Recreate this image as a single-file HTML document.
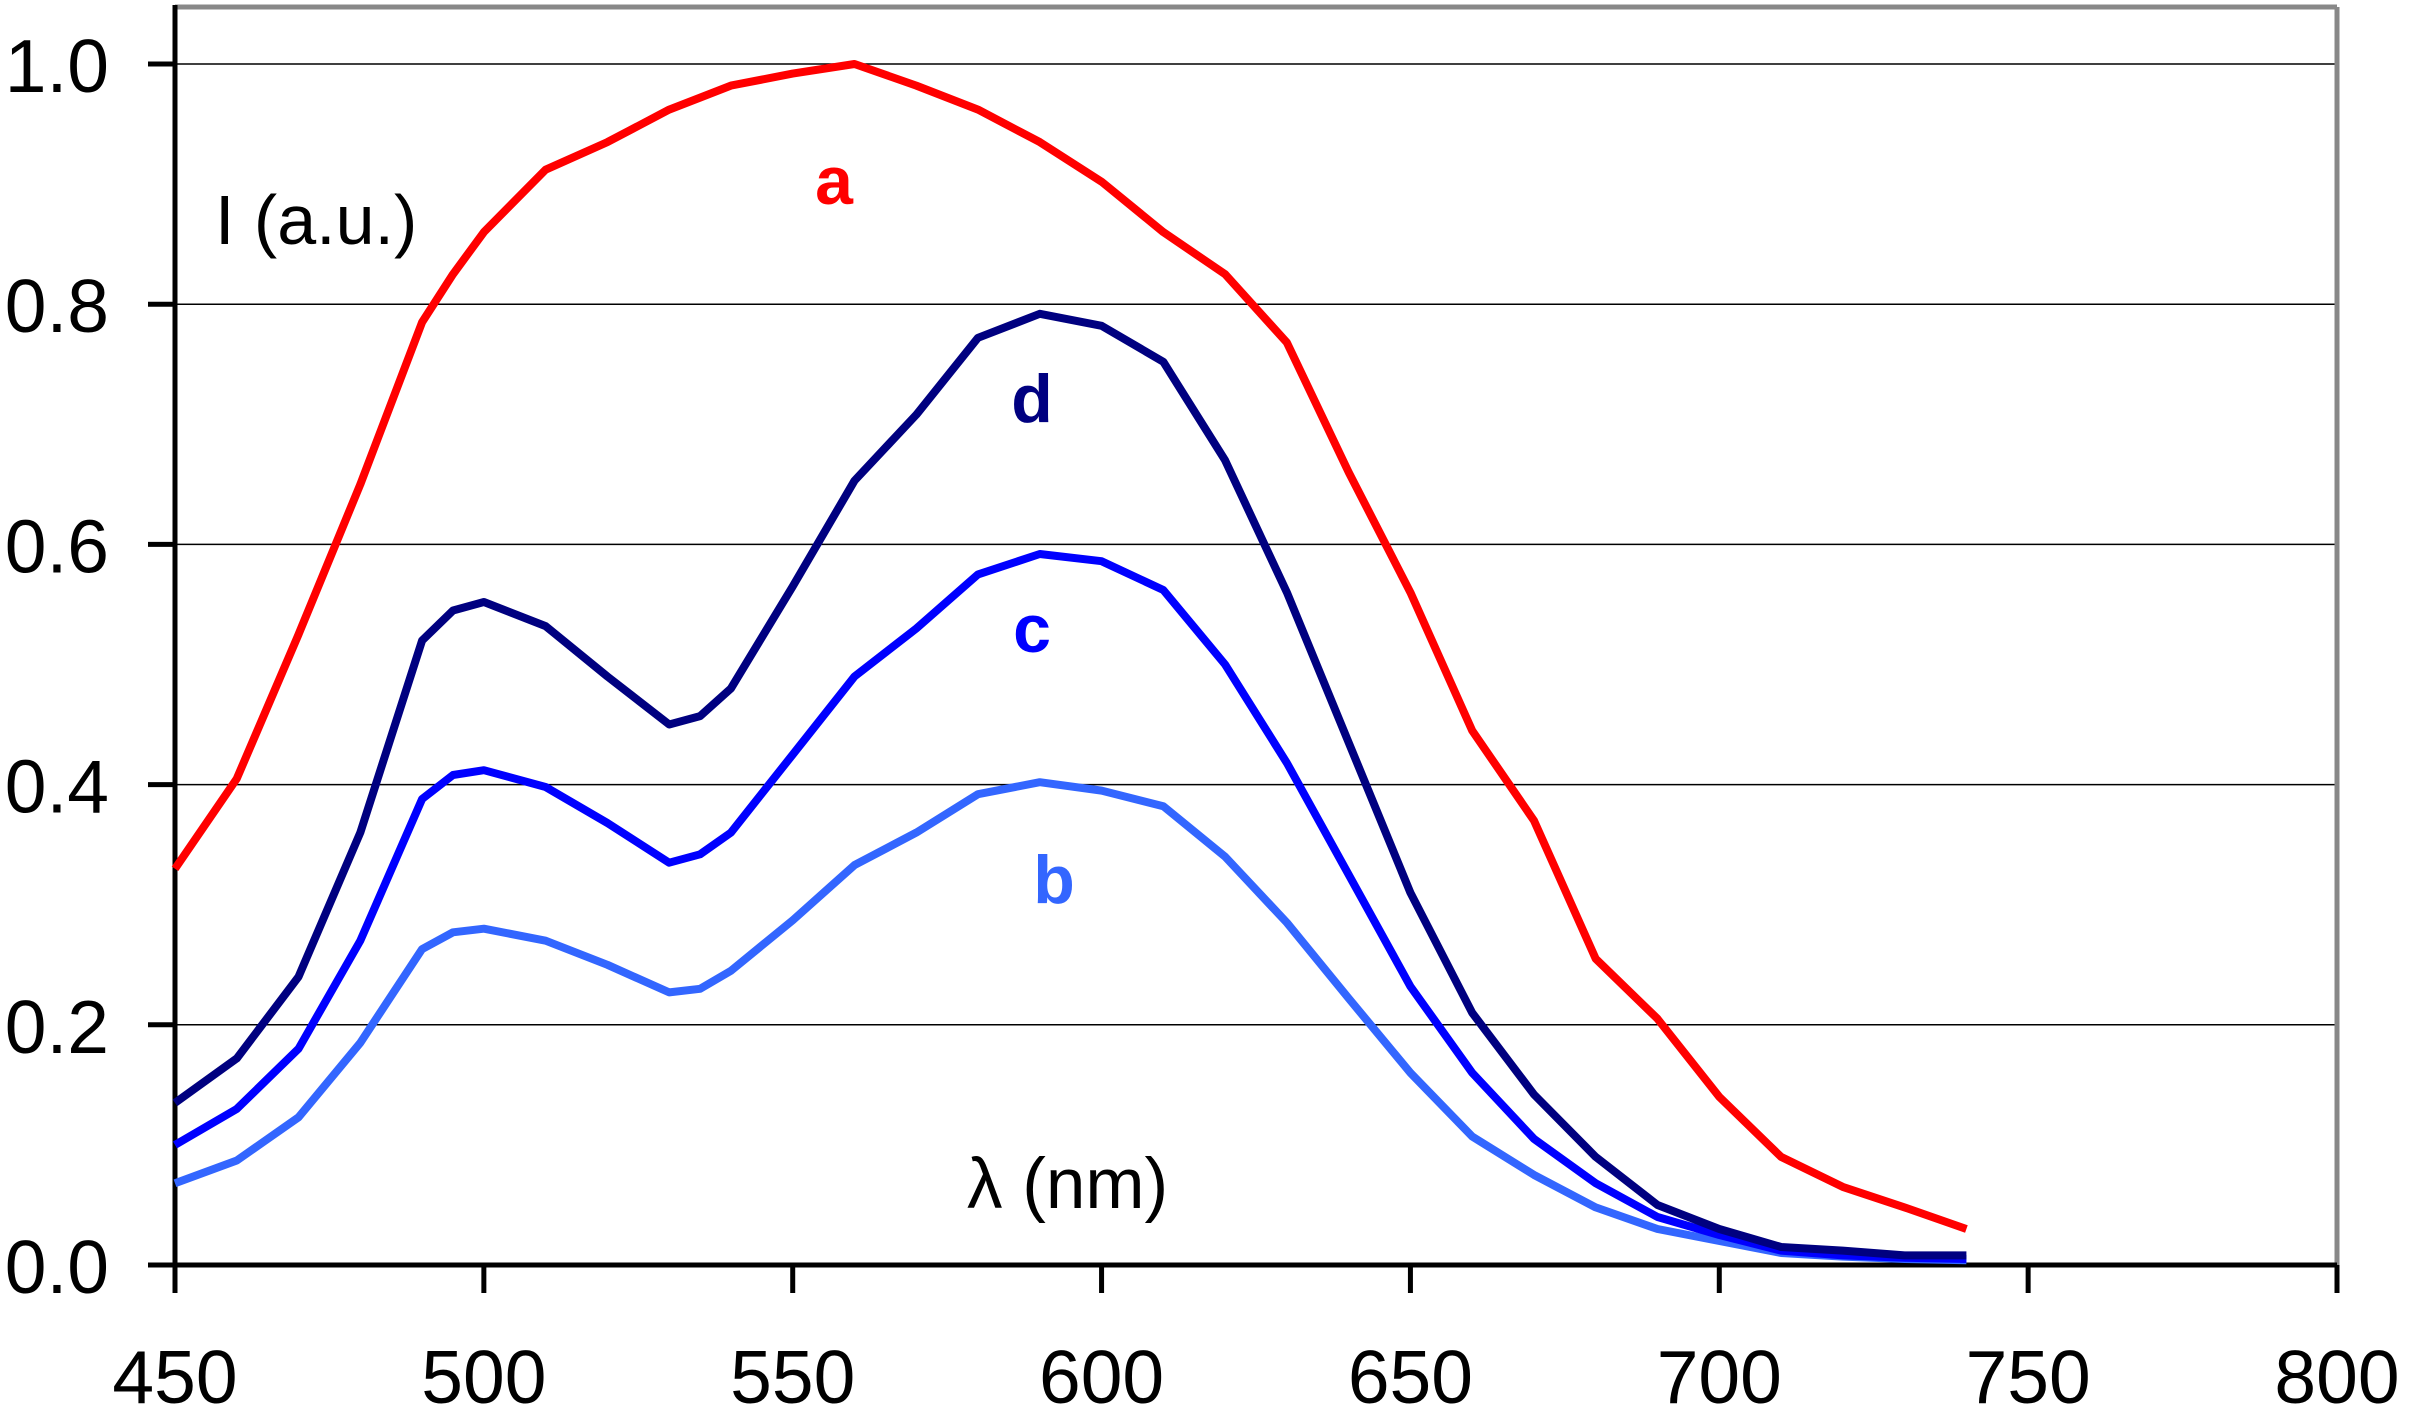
<!DOCTYPE html>
<html><head><meta charset="utf-8"><style>
html,body{margin:0;padding:0;background:#fff;}
svg{display:block;}
text{font-family:"Liberation Sans",Arial,sans-serif;}
</style></head><body>
<svg id="s" width="2409" height="1414" viewBox="0 0 2409 1414" xmlns="http://www.w3.org/2000/svg">
<rect width="2409" height="1414" fill="#fff"/>
<g id="grid" stroke="#000" stroke-width="1.5"></g>
<line x1="175" y1="7" x2="2337" y2="7" stroke="#888" stroke-width="5"/>
<line x1="2337" y1="7" x2="2337" y2="1265" stroke="#888" stroke-width="5"/>
<g id="axes" stroke="#000" stroke-width="5"></g>
<g id="lines" fill="none" stroke-width="8" stroke-linejoin="round"></g>
<g id="labels" font-size="75" fill="#000"></g>
<text x="215" y="244" font-size="70" fill="#000">I (a.u.)</text>
<text x="967" y="1208" font-size="71" fill="#000">λ (nm)</text>
<text x="834" y="204" font-size="68" font-weight="bold" fill="#ff0000" text-anchor="middle">a</text>
<text x="1032" y="422" font-size="68" font-weight="bold" fill="#000080" text-anchor="middle">d</text>
<text x="1032" y="652" font-size="68" font-weight="bold" fill="#0000ff" text-anchor="middle">c</text>
<text x="1054" y="903" font-size="68" font-weight="bold" fill="#3366ff" text-anchor="middle">b</text>
</svg>
<script>
var NS="http://www.w3.org/2000/svg";
function X(v){return 175+(v-450)*2162/350;}
function Y(v){return 1265-v*1201;}
function el(p,t,a,txt){var e=document.createElementNS(NS,t);for(var k in a)e.setAttribute(k,a[k]);if(txt!==undefined)e.textContent=txt;(typeof p==="string"?document.getElementById(p):p).appendChild(e);return e;}
for(var i=1;i<=5;i++){var y=Y(i*0.2);el("grid","line",{x1:175,y1:y,x2:2337,y2:y});}
el("axes","line",{x1:175,y1:5,x2:175,y2:1293});
el("axes","line",{x1:148,y1:1265,x2:2337,y2:1265});
for(var i=0;i<=5;i++){var y=Y(i*0.2);el("axes","line",{x1:148,y1:y,x2:175,y2:y});
el("labels","text",{x:109,y:y+28,"text-anchor":"end"},(i*0.2).toFixed(1));}
for(var v=450;v<=800;v+=50){var x=X(v);el("axes","line",{x1:x,y1:1265,x2:x,y2:1293});
el("labels","text",{x:x,y:1403,"text-anchor":"middle"},String(v));}
var xs=[450,460,470,480,490,495,500,510,520,530,535,540,550,560,570,580,590,600,610,620,630,640,650,660,670,680,690,700,710,720,730,740];
var S={
"#ff0000":[0.33,0.405,0.525,0.65,0.785,0.825,0.86,0.912,0.935,0.962,0.972,0.982,0.992,1.0,0.982,0.962,0.935,0.902,0.86,0.825,0.768,0.66,0.56,0.445,0.37,0.255,0.205,0.14,0.09,0.065,0.048,0.03],
"#3366ff":[0.068,0.087,0.123,0.185,0.263,0.277,0.28,0.27,0.25,0.227,0.23,0.245,0.287,0.333,0.36,0.392,0.402,0.395,0.382,0.34,0.285,0.222,0.16,0.107,0.075,0.048,0.03,0.02,0.01,0.007,0.005,0.004],
"#0000ff":[0.1,0.13,0.18,0.27,0.388,0.408,0.412,0.398,0.368,0.335,0.342,0.36,0.425,0.49,0.53,0.575,0.592,0.586,0.562,0.5,0.418,0.325,0.232,0.16,0.105,0.068,0.04,0.025,0.012,0.008,0.006,0.005],
"#000080":[0.135,0.172,0.24,0.36,0.52,0.545,0.552,0.532,0.49,0.45,0.457,0.48,0.565,0.653,0.708,0.772,0.792,0.782,0.752,0.67,0.56,0.435,0.31,0.21,0.142,0.09,0.05,0.03,0.015,0.012,0.008,0.008]};
for(var c in S){var p=xs.map(function(x,i){return X(x).toFixed(1)+","+Y(S[c][i]).toFixed(1);}).join(" ");
el("lines","polyline",{points:p,stroke:c});}
</script>
</body></html>
